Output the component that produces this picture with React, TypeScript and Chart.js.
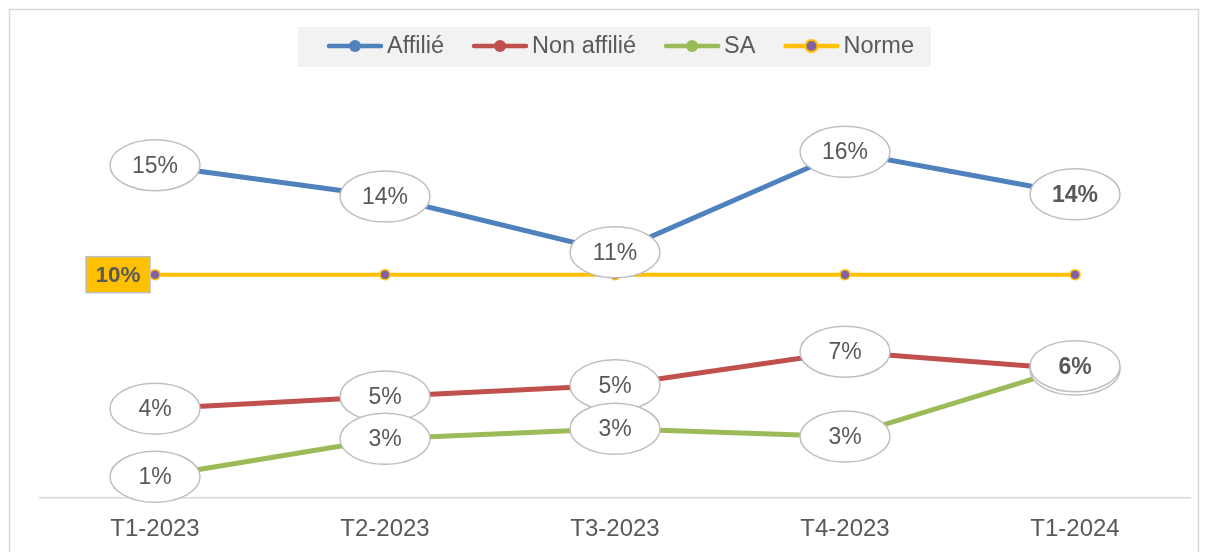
import React, { useEffect, useRef } from "react";
import { Chart, registerables } from "chart.js";

Chart.register(...registerables);

const CATEGORIES = ["T1-2023", "T2-2023", "T3-2023", "T4-2023", "T1-2024"];
const AFFILIE = [14.9, 13.5, 11.0, 15.5, 13.6];
const NON_AFFILIE = [4.0, 4.55, 5.05, 6.55, 5.75];
const SA = [0.95, 2.65, 3.1, 2.75, 5.9];
const NORME = [10, 10, 10, 10, 10];

const SERIES_NAMES = ["Affilié", "Non affilié", "SA", "Norme"];
const COLORS = ["#4f81bd", "#c0504d", "#9bbb59", "#ffc000"];
const NORME_POINT = "#8064a2";
const TEXT = "#595959";
const FONT = "'Liberation Sans', Arial, sans-serif";

const W = 1208;
const H = 552;

const framePlugin = {
  id: "frame",
  beforeDraw(chart: any) {
    const ctx = chart.ctx;
    ctx.save();
    ctx.fillStyle = "#ffffff";
    ctx.fillRect(0, 0, chart.width, chart.height);
    ctx.strokeStyle = "#d9d9d9";
    ctx.lineWidth = 1.5;
    ctx.strokeRect(9.5, 9.5, chart.width - 19, chart.height + 20);
    ctx.restore();
  },
};

const legendPlugin = {
  id: "customLegend",
  afterDraw(chart: any) {
    const ctx = chart.ctx;
    ctx.save();
    ctx.font = `23.5px ${FONT}`;
    const lineLen = 56;
    const gapText = 4;
    const gapItem = 28;
    const widths = SERIES_NAMES.map((n) => ctx.measureText(n).width);
    const total =
      widths.reduce((a, w) => a + lineLen + gapText + w, 0) + gapItem * (SERIES_NAMES.length - 1);
    const boxLeft = 298;
    const padL = 29;
    const padR = 17;
    const boxW = padL + total + padR;
    ctx.fillStyle = "#f2f2f2";
    ctx.fillRect(boxLeft, 27, boxW, 40);
    let x = boxLeft + padL;
    const cy = 46;
    SERIES_NAMES.forEach((name, i) => {
      ctx.strokeStyle = COLORS[i];
      ctx.lineWidth = 4.5;
      ctx.lineCap = "round";
      ctx.beginPath();
      ctx.moveTo(x + 2, cy);
      ctx.lineTo(x + lineLen - 2, cy);
      ctx.stroke();
      ctx.beginPath();
      ctx.arc(x + lineLen / 2, cy, 6, 0, Math.PI * 2);
      if (i === 3) {
        ctx.fillStyle = NORME_POINT;
        ctx.fill();
        ctx.lineWidth = 2;
        ctx.strokeStyle = COLORS[3];
        ctx.stroke();
      } else {
        ctx.fillStyle = COLORS[i];
        ctx.fill();
      }
      x += lineLen + gapText;
      ctx.fillStyle = TEXT;
      ctx.textAlign = "left";
      ctx.textBaseline = "middle";
      ctx.fillText(name, x, cy + 1);
      x += widths[i] + gapItem;
    });
    ctx.restore();
  },
};

const labelPlugin = {
  id: "pointLabels",
  afterDatasetsDraw(chart: any) {
    const ctx = chart.ctx;
    ctx.save();
    chart.data.datasets.forEach((ds: any, di: number) => {
      const meta = chart.getDatasetMeta(di);
      const last = ds.data.length - 1;
      meta.data.forEach((pt: any, i: number) => {
        const v = ds.data[i];
        const text = Math.round(v) + "%";
        const bold = i === last;
        if (ds.labelStyle === "box") {
          if (i !== 0) return;
          const bw = 64;
          const bh = 36;
          const bx = pt.x - 5 - bw;
          const by = pt.y - bh / 2;
          ctx.fillStyle = COLORS[3];
          ctx.fillRect(bx, by, bw, bh);
          ctx.strokeStyle = "#bfbfbf";
          ctx.lineWidth = 1.5;
          ctx.strokeRect(bx, by, bw, bh);
          ctx.fillStyle = TEXT;
          ctx.font = `bold 22.5px ${FONT}`;
          ctx.textAlign = "center";
          ctx.textBaseline = "middle";
          ctx.fillText(text, bx + bw / 2, pt.y + 1);
          return;
        }
        ctx.beginPath();
        ctx.ellipse(pt.x, pt.y, 45, 25.5, 0, 0, Math.PI * 2);
        ctx.fillStyle = "#ffffff";
        ctx.fill();
        ctx.strokeStyle = "#bfbfbf";
        ctx.lineWidth = 1.5;
        ctx.stroke();
        ctx.fillStyle = TEXT;
        ctx.font = `${bold ? "bold " : ""}23px ${FONT}`;
        ctx.textAlign = "center";
        ctx.textBaseline = "middle";
        ctx.fillText(text, pt.x, pt.y + 1);
      });
    });
    ctx.restore();
  },
};

export default function App() {
  const ref = useRef<HTMLCanvasElement | null>(null);

  useEffect(() => {
    if (!ref.current) return;
    const chart = new Chart(ref.current, {
      type: "line",
      data: {
        labels: CATEGORIES,
        datasets: [
          {
            label: SERIES_NAMES[0],
            data: AFFILIE,
            borderColor: COLORS[0],
            backgroundColor: COLORS[0],
            borderWidth: 5,
            pointRadius: 0,
            labelStyle: "ellipse",
          } as any,
          {
            label: SERIES_NAMES[1],
            data: NON_AFFILIE,
            borderColor: COLORS[1],
            backgroundColor: COLORS[1],
            borderWidth: 5,
            pointRadius: 0,
            labelStyle: "ellipse",
          } as any,
          {
            label: SERIES_NAMES[2],
            data: SA,
            borderColor: COLORS[2],
            backgroundColor: COLORS[2],
            borderWidth: 5,
            pointRadius: 0,
            labelStyle: "ellipse",
          } as any,
          {
            label: SERIES_NAMES[3],
            data: NORME,
            borderColor: COLORS[3],
            backgroundColor: NORME_POINT,
            pointBackgroundColor: NORME_POINT,
            pointBorderColor: COLORS[3],
            pointBorderWidth: 1.5,
            pointRadius: 5,
            borderWidth: 4,
            labelStyle: "box",
          } as any,
        ],
      },
      options: {
        responsive: false,
        animation: false,
        devicePixelRatio: 1,
        layout: { padding: { top: 96, left: 40, right: 18, bottom: 0 } },
        plugins: {
          legend: { display: false },
          tooltip: { enabled: false },
        },
        scales: {
          x: {
            offset: true,
            grid: { display: false },
            border: { display: true, color: "#d9d9d9", width: 1.5 },
            ticks: {
              color: TEXT,
              padding: 11,
              font: { family: FONT, size: 24, lineHeight: 1 },
            },
          },
          y: {
            display: false,
            min: 0,
            max: 18,
          },
        },
      },
      plugins: [framePlugin, labelPlugin, legendPlugin],
    });
    return () => chart.destroy();
  }, []);

  return (
    <div style={{ position: "absolute", left: 0, top: 0, width: W, height: H, background: "#fff" }}>
      <canvas ref={ref} width={W} height={H} style={{ display: "block", width: W, height: H }} />
    </div>
  );
}
